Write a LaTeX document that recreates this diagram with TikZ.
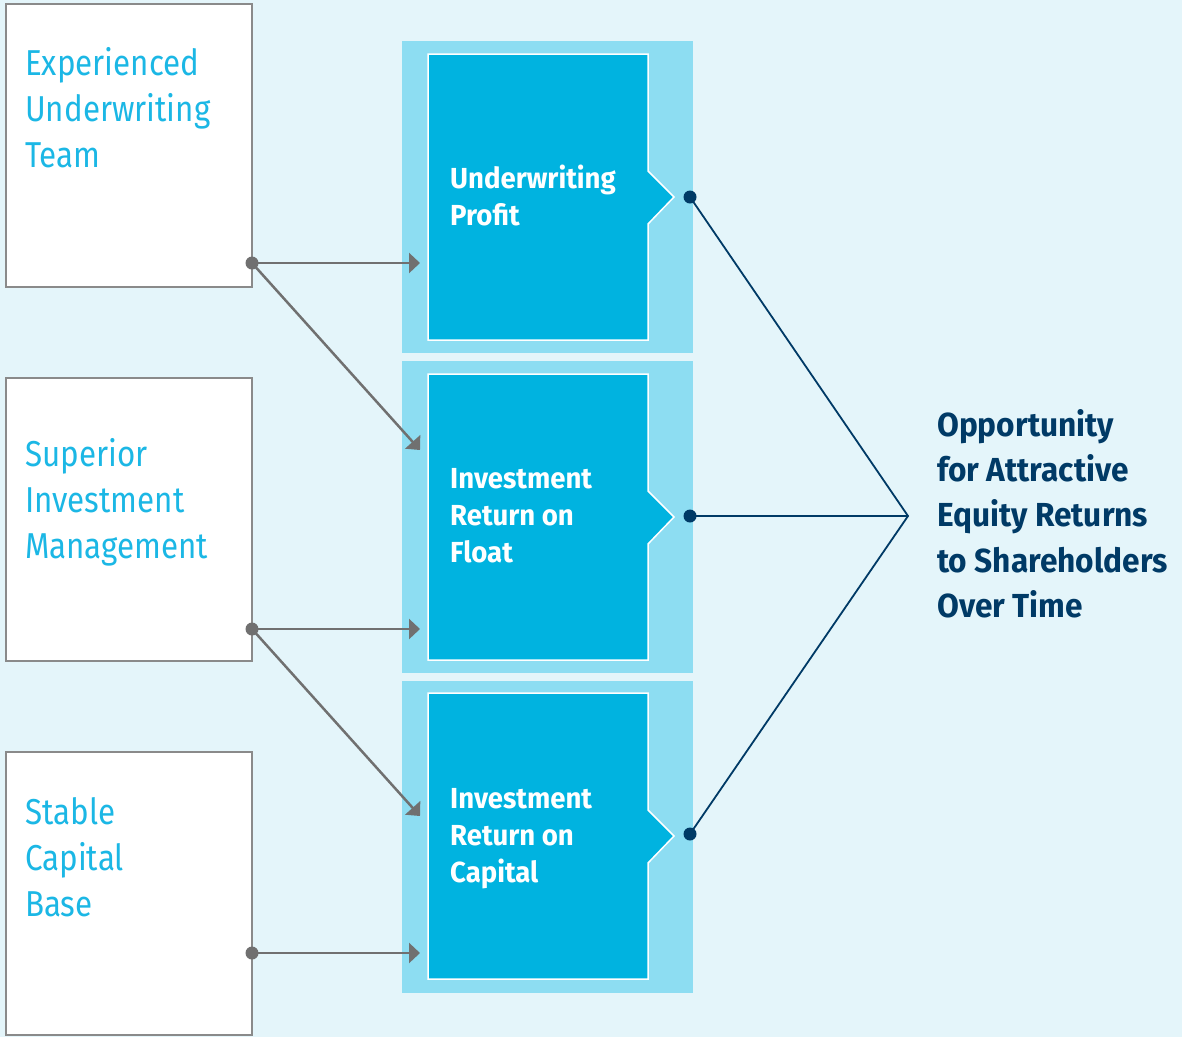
\documentclass[tikz,border=0pt]{standalone}
\usepackage{fontspec}
\setmainfont{Fira Sans}
\newfontfamily\lightfont[FakeStretch=0.87]{Fira Sans}
\newfontfamily\midfont[FakeStretch=0.95]{Fira Sans}
\usetikzlibrary{arrows.meta}
\definecolor{bgc}{HTML}{E4F5FA}
\definecolor{panelc}{HTML}{8DDDF2}
\definecolor{innerc}{HTML}{00B3E0}
\definecolor{leftc}{HTML}{1BB7E5}
\definecolor{grayc}{HTML}{707070}
\definecolor{borderc}{HTML}{8A8A8A}
\definecolor{navyc}{HTML}{003A66}
\tikzset{
  leftbox/.style={draw=borderc, line width=1.5pt, fill=white, minimum width=246pt, minimum height=283pt, inner sep=0pt},
  lefttext/.style={anchor=north west, inner sep=0pt, align=left, text=leftc, font=\lightfont\fontsize{36}{46}\selectfont},
  panel/.style={fill=panelc, minimum width=291pt, minimum height=312pt, inner sep=0pt},
  innerbox/.style={fill=innerc, draw=white, line width=1.5pt},
  midtext/.style={anchor=north west, inner sep=0pt, align=left, text=white, font=\midfont\bfseries\fontsize{29}{37}\selectfont},
  righttext/.style={anchor=north west, inner sep=0pt, align=left, text=navyc, font=\midfont\bfseries\fontsize{33.3}{45.3}\selectfont},
  gdot/.style={circle, fill=grayc, minimum size=13pt, inner sep=0pt},
  ndot/.style={circle, fill=navyc, minimum size=13pt, inner sep=0pt},
  garrow/.style={draw=grayc, line width=2.5pt, -{Triangle[length=11pt,width=20pt]}},
  nline/.style={draw=navyc, line width=1.8pt}
}
\begin{document}
\begin{tikzpicture}[x=1pt,y=-1pt]
\useasboundingbox (0,0) rectangle (1182,1037);
\fill[bgc] (0,0) rectangle (1182,1037);

% left boxes
\node[leftbox] (b1) at (129,145.5) {};
\node[leftbox] (b2) at (129,519.5) {};
\node[leftbox] (b3) at (129,893.5) {};
\node[lefttext] (b1t) at (25,47) {Experienced\\Underwriting\\Team};
\node[lefttext] (b2t) at (25,438) {Superior\\Investment\\Management};
\node[lefttext] (b3t) at (25,797) {Stable\\Capital\\Base};

% panels
\node[panel] (p1) at (547.5,197) {};
\node[panel] (p2) at (547.5,516.5) {};
\node[panel] (p3) at (547.5,837) {};

% inner pentagons
\foreach \t in {54,374,693}{
  \path[innerbox] (428,\t) -- (648,\t) -- (648,\t+117) -- (674,\t+143) -- (648,\t+170) -- (648,\t+286) -- (428,\t+286) -- cycle;
}
\node[midtext] (m1) at (450,165) {Underwriting\\Profit};
\node[midtext] (m2) at (450,468) {Investment\\Return on\\Float};
\node[midtext] (m3) at (450,788) {Investment\\Return on\\Capital};

% right text
\node[righttext] (r) at (937,409) {Opportunity\\for Attractive\\Equity Returns\\to Shareholders\\Over Time};

% navy connectors
\node[ndot] (d1) at (690,197) {};
\node[ndot] (d2) at (690,516) {};
\node[ndot] (d3) at (690,834) {};
\coordinate (c) at (908,516);
\draw[nline] (d1.center) -- (c) -- (d3.center);
\draw[nline] (d2.center) -- (c);

% gray arrows
\node[gdot] (g1) at (252,263) {};
\node[gdot] (g2) at (252,629) {};
\node[gdot] (g3) at (252,953) {};
\coordinate (a1) at (420,263);
\coordinate (a2) at (420,450);
\coordinate (a3) at (420,629);
\coordinate (a4) at (420,816);
\coordinate (a5) at (420,953);
\draw[garrow] (g1.center) -- (a1);
\draw[garrow] (g1.center) -- (a2);
\draw[garrow] (g2.center) -- (a3);
\draw[garrow] (g2.center) -- (a4);
\draw[garrow] (g3.center) -- (a5);
\end{tikzpicture}
\end{document}
